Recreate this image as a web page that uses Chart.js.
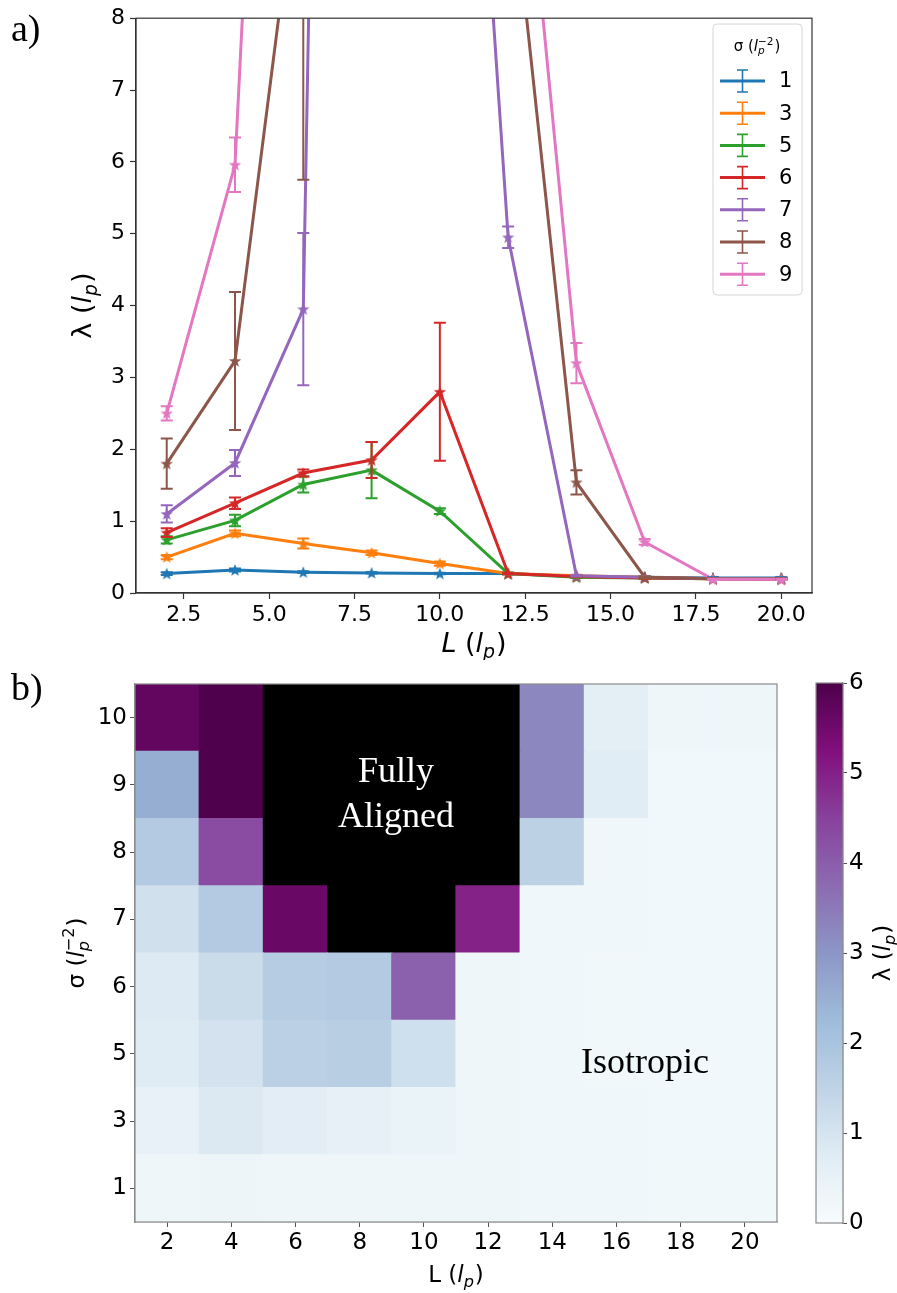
<!DOCTYPE html>
<html>
<head>
<meta charset="utf-8">
<script src="https://cdn.jsdelivr.net/npm/chart.js@4.4.1/dist/chart.umd.min.js"></script>
<style>
    html, body { margin: 0; padding: 0; background: #fff; }
    body { width: 897px; height: 1293px; position: relative; overflow: hidden; }
    canvas { position: absolute; }
    #lineCanvas { left: 0; top: 0; }
    #heatCanvas { left: 0; top: 660px; }
    #barCanvas { left: 790px; top: 660px; }
</style>
</head>
<body>
<canvas id="lineCanvas" width="897" height="660" style="width:897px;height:660px"></canvas>
<canvas id="heatCanvas" width="800" height="633" style="width:800px;height:633px"></canvas>
<canvas id="barCanvas" width="107" height="633" style="width:107px;height:633px"></canvas>
<script>
// ---- data: panel a (lambda vs L for each sigma) ----
const L = [2, 4, 6, 8, 10, 12, 14, 16, 18, 20];
const sigmaLine = [1, 3, 5, 6, 7, 8, 9];

const lamS1 = [0.27, 0.32, 0.29, 0.28, 0.27, 0.27, 0.23, 0.22, 0.21, 0.21];
const lamS3 = [0.50, 0.83, 0.69, 0.56, 0.41, 0.27, 0.24, 0.22, 0.20, 0.20];
const lamS5 = [0.74, 1.01, 1.51, 1.71, 1.14, 0.27, 0.22, 0.21, 0.20, 0.20];
const lamS6 = [0.84, 1.25, 1.67, 1.85, 2.80, 0.27, 0.23, 0.21, 0.20, 0.19];
const lamS7 = [1.10, 1.81, 3.95, 56, 19, 4.95, 0.24, 0.22, 0.20, 0.20];
const lamS8 = [1.80, 3.23, 10.7, 40, 40, 10.4, 1.54, 0.22, 0.20, 0.20];
const lamS9 = [2.50, 5.96, 25, 40, 40, 13.0, 3.20, 0.71, 0.19, 0.19];

const errS1 = [0.02, 0.02, 0.01, 0.01, 0.01, 0.01, 0.01, 0.01, 0.01, 0.01];
const errS3 = [0.03, 0.04, 0.07, 0.03, 0.03, 0.01, 0.01, 0.01, 0.01, 0.01];
const errS5 = [0.05, 0.08, 0.11, 0.39, 0.04, 0.01, 0.01, 0.01, 0.01, 0.01];
const errS6 = [0.06, 0.08, 0.05, 0.25, 0.96, 0.01, 0.01, 0.01, 0.01, 0.01];
const errS7 = [0.12, 0.18, 1.06, 5, 3, 0.15, 0.01, 0.01, 0.01, 0.01];
const errS8 = [0.35, 0.96, 4.95, 5, 5, 2, 0.17, 0.01, 0.01, 0.01];
const errS9 = [0.10, 0.38, 5, 5, 5, 2, 0.28, 0.04, 0.01, 0.01];

const lineTicksX = [2.5, 5, 7.5, 10, 12.5, 15, 17.5, 20];
const lineTicksY = [0, 1, 2, 3, 4, 5, 6, 7, 8];

// ---- data: panel b (heatmap, null = above colour range / fully aligned) ----
const sigmaHeat = [1, 3, 5, 6, 7, 8, 9, 10];
const heatS1  = [0.27, 0.32, 0.29, 0.28, 0.27, 0.27, 0.23, 0.22, 0.21, 0.21];
const heatS3  = [0.50, 0.85, 0.69, 0.56, 0.41, 0.27, 0.24, 0.22, 0.20, 0.20];
const heatS5  = [0.75, 1.05, 1.60, 1.66, 1.15, 0.27, 0.22, 0.21, 0.20, 0.20];
const heatS6  = [0.82, 1.26, 1.73, 1.78, 3.95, 0.27, 0.23, 0.21, 0.20, 0.19];
const heatS7  = [1.11, 1.78, 5.58, null, null, 4.97, 0.24, 0.22, 0.20, 0.20];
const heatS8  = [1.78, 4.30, null, null, null, null, 1.55, 0.22, 0.20, 0.20];
const heatS9  = [2.53, 5.95, null, null, null, null, 3.25, 0.72, 0.19, 0.19];
const heatS10 = [5.68, 5.95, null, null, null, null, 3.25, 0.66, 0.30, 0.28];
const colorbarTicks = [0, 1, 2, 3, 4, 5, 6];

const lamLines = [lamS1, lamS3, lamS5, lamS6, lamS7, lamS8, lamS9];
const errLines = [errS1, errS3, errS5, errS6, errS7, errS8, errS9];
const heatRows = [heatS1, heatS3, heatS5, heatS6, heatS7, heatS8, heatS9, heatS10];

const lineColors = ["#1f77b4", "#ff7f0e", "#2ca02c", "#d62728", "#9467bd", "#8c564b", "#e377c2"];
const BUPU = ["#f7fcfd", "#e0ecf4", "#bfd3e6", "#9ebcda", "#8c96c6", "#8c6bb1", "#88419d", "#810f7c", "#4d004b"];
const LAM_MAX = 6;

Chart.defaults.font.family = "'DejaVu Sans', sans-serif";
Chart.defaults.color = "#000";

function hexToRgb(h) {
    return [1, 3, 5].map(i => parseInt(h.slice(i, i + 2), 16));
}

// BuPu colormap, black above the range
function bupu(v) {
    if (v === null || v > LAM_MAX) return "#000000";
    const t = Math.max(0, v / LAM_MAX) * (BUPU.length - 1);
    const i = Math.min(Math.floor(t), BUPU.length - 2);
    const f = t - i;
    const a = hexToRgb(BUPU[i]), b = hexToRgb(BUPU[i + 1]);
    const c = a.map((x, k) => Math.round(x + (b[k] - x) * f));
    return `rgb(${c[0]},${c[1]},${c[2]})`;
}

function starImage(color) {
    const c = document.createElement("canvas");
    c.width = c.height = 14;
    const g = c.getContext("2d");
    g.fillStyle = color;
    g.beginPath();
    for (let k = 0; k < 10; k++) {
        const r = k % 2 ? 2.7 : 6.5;
        const a = -Math.PI / 2 + k * Math.PI / 5;
        g.lineTo(7 + r * Math.cos(a), 7.5 + r * Math.sin(a));
    }
    g.closePath();
    g.fill();
    return c;
}

// text with italic parts and sub/superscripts, centred on x, y = baseline
function drawRich(ctx, parts, x, y, size, rot) {
    const fam = "'DejaVu Sans'";
    const small = size * 0.7;
    const font = (it, s) => (it ? "italic " : "") + s + "px " + fam;
    const widths = parts.map(p => {
        if (p.t !== undefined) {
            ctx.font = font(p.it, size);
            return ctx.measureText(p.t).width;
        }
        let w = 0;
        if (p.sub) { ctx.font = font(true, small); w = Math.max(w, ctx.measureText(p.sub).width); }
        if (p.sup) { ctx.font = font(false, small); w = Math.max(w, ctx.measureText(p.sup).width); }
        return w + 1;
    });
    const total = widths.reduce((a, b) => a + b, 0);
    ctx.save();
    ctx.translate(x, y);
    ctx.rotate(rot || 0);
    ctx.textAlign = "left";
    ctx.textBaseline = "alphabetic";
    ctx.fillStyle = "#000";
    let cx = -total / 2;
    parts.forEach((p, k) => {
        if (p.t !== undefined) {
            ctx.font = font(p.it, size);
            ctx.fillText(p.t, cx, 0);
        } else {
            if (p.sub) { ctx.font = font(true, small); ctx.fillText(p.sub, cx, size * 0.22); }
            if (p.sup) { ctx.font = font(false, small); ctx.fillText(p.sup, cx, -size * 0.42); }
        }
        cx += widths[k];
    });
    ctx.restore();
}

const lpParts = [{ t: "(" }, { t: "l", it: true }, { sub: "p" }, { t: ")" }];
const sigmaParts = [{ t: "σ (" }, { t: "l", it: true }, { sub: "p", sup: "−2" }, { t: ")" }];

// ---- panel a ----
const errorBarPlugin = {
    id: "errorBars",
    afterDatasetsDraw(chart) {
        const { ctx, chartArea: a, scales: { x, y } } = chart;
        ctx.save();
        ctx.beginPath();
        ctx.rect(a.left, a.top, a.width, a.height);
        ctx.clip();
        chart.data.datasets.forEach(ds => {
            ctx.strokeStyle = ds.borderColor;
            ctx.lineWidth = 2;
            ds.data.forEach((p, j) => {
                const e = ds.errors[j];
                const px = x.getPixelForValue(p.x);
                const top = y.getPixelForValue(p.y + e);
                const bot = y.getPixelForValue(p.y - e);
                ctx.beginPath();
                ctx.moveTo(px, top); ctx.lineTo(px, bot);
                ctx.moveTo(px - 6, top); ctx.lineTo(px + 6, top);
                ctx.moveTo(px - 6, bot); ctx.lineTo(px + 6, bot);
                ctx.stroke();
            });
        });
        ctx.restore();
    }
};

const lineDecor = {
    id: "lineDecor",
    afterDraw(chart) {
        const { ctx, chartArea: a } = chart;
        ctx.save();
        ctx.strokeStyle = "#333";
        ctx.lineWidth = 1.2;
        ctx.strokeRect(a.left, a.top, a.width, a.height);

        ctx.fillStyle = "#000";
        ctx.font = "38px 'Liberation Serif'";
        ctx.textAlign = "left";
        ctx.textBaseline = "alphabetic";
        ctx.fillText("a)", 11, 41);

        // legend
        const lx = 713, ly = 24, lw = 89, lh = 271;
        ctx.fillStyle = "rgba(255,255,255,0.85)";
        ctx.strokeStyle = "#d6d6d6";
        ctx.lineWidth = 1;
        ctx.beginPath();
        ctx.roundRect(lx, ly, lw, lh, 4);
        ctx.fill();
        ctx.stroke();
        ctx.restore();

        drawRich(ctx, sigmaParts, 757, 51, 15);

        ctx.save();
        chart.data.datasets.forEach((ds, k) => {
            const cy = 81 + k * 32.2;
            ctx.strokeStyle = ds.borderColor;
            ctx.lineWidth = 3;
            ctx.beginPath();
            ctx.moveTo(720, cy); ctx.lineTo(765, cy);
            ctx.stroke();
            ctx.lineWidth = 1.6;
            ctx.beginPath();
            ctx.moveTo(742.5, cy - 11); ctx.lineTo(742.5, cy + 11);
            ctx.moveTo(737, cy - 11); ctx.lineTo(748, cy - 11);
            ctx.moveTo(737, cy + 11); ctx.lineTo(748, cy + 11);
            ctx.stroke();
            ctx.fillStyle = "#000";
            ctx.font = "21px 'DejaVu Sans'";
            ctx.textBaseline = "middle";
            ctx.textAlign = "left";
            ctx.fillText(ds.label, 779, cy + 1);
        });
        ctx.restore();

        // axis titles
        drawRich(ctx, [{ t: "L", it: true }, { t: " " }].concat(lpParts), (a.left + a.right) / 2, 652, 27);
        drawRich(ctx, [{ t: "λ " }].concat(lpParts), 91, (a.top + a.bottom) / 2, 27, -Math.PI / 2);
    }
};

new Chart(document.getElementById("lineCanvas"), {
    type: "line",
    data: {
        datasets: sigmaLine.map((s, i) => ({
            label: String(s),
            data: L.map((x, j) => ({ x, y: lamLines[i][j] })),
            errors: errLines[i],
            borderColor: lineColors[i],
            backgroundColor: lineColors[i],
            borderWidth: 3,
            pointStyle: starImage(lineColors[i]),
            pointRadius: 6,
            tension: 0,
            clip: 0,
            order: 10 - i
        }))
    },
    options: {
        responsive: false,
        animation: false,
        layout: { padding: { left: 0, top: 14, right: 85, bottom: 0 } },
        plugins: { legend: { display: false }, tooltip: { enabled: false } },
        scales: {
            x: {
                type: "linear",
                min: 1.1,
                max: 20.9,
                afterBuildTicks: s => { s.ticks = lineTicksX.map(v => ({ value: v })); },
                afterFit: s => { s.height = 67; },
                ticks: { callback: v => v.toFixed(1), font: { size: 22 }, padding: 3, maxRotation: 0, autoSkip: false },
                grid: { drawOnChartArea: false, tickLength: 6, color: "#333", tickWidth: 1.2 },
                border: { color: "#333", width: 1.2 }
            },
            y: {
                min: 0,
                max: 8,
                afterBuildTicks: s => { s.ticks = lineTicksY.map(v => ({ value: v })); },
                afterFit: s => { s.width = 136; },
                ticks: { callback: v => String(v), font: { size: 22 }, padding: 5 },
                grid: { drawOnChartArea: false, tickLength: 6, color: "#333", tickWidth: 1.2 },
                border: { color: "#333", width: 1.2 }
            }
        }
    },
    plugins: [errorBarPlugin, lineDecor]
});

// ---- panel b heatmap ----
const heatDecor = {
    id: "heatDecor",
    afterDraw(chart) {
        const { ctx, chartArea: a } = chart;
        ctx.save();
        ctx.strokeStyle = "#8a8a8a";
        ctx.lineWidth = 1.2;
        ctx.strokeRect(a.left, a.top, a.width, a.height);

        ctx.fillStyle = "#000";
        ctx.font = "38px 'Liberation Serif'";
        ctx.textAlign = "left";
        ctx.textBaseline = "alphabetic";
        ctx.fillText("b)", 11, 40);

        ctx.font = "36px 'Liberation Serif'";
        ctx.textAlign = "center";
        ctx.fillStyle = "#fff";
        ctx.fillText("Fully", 396, 122);
        ctx.fillText("Aligned", 396, 167);
        ctx.fillStyle = "#000";
        ctx.fillText("Isotropic", 645, 413);
        ctx.restore();

        drawRich(ctx, [{ t: "L " }].concat(lpParts), (a.left + a.right) / 2, 622, 23);
        drawRich(ctx, sigmaParts, 84, (a.top + a.bottom) / 2, 23, -Math.PI / 2);
    }
};

new Chart(document.getElementById("heatCanvas"), {
    type: "bar",
    data: {
        labels: L.map(String),
        datasets: sigmaHeat.map((s, r) => ({
            label: "σ = " + s,
            data: L.map(() => [r, r + 1]),
            backgroundColor: heatRows[r].map(bupu),
            borderWidth: 0,
            inflateAmount: 0.6,
            barPercentage: 1,
            categoryPercentage: 1,
            grouped: false
        }))
    },
    options: {
        responsive: false,
        animation: false,
        layout: { padding: { left: 0, top: 24, right: 23, bottom: 0 } },
        plugins: { legend: { display: false }, tooltip: { enabled: false } },
        scales: {
            x: {
                afterFit: s => { s.height = 71; },
                ticks: { font: { size: 23 }, padding: 2, maxRotation: 0, autoSkip: false },
                grid: { offset: false, drawOnChartArea: false, tickLength: 5, color: "#555" },
                border: { color: "#8a8a8a", width: 1.2 }
            },
            y: {
                type: "linear",
                min: 0,
                max: sigmaHeat.length,
                afterBuildTicks: s => { s.ticks = sigmaHeat.map((v, i) => ({ value: i + 0.5 })); },
                afterFit: s => { s.width = 135; },
                ticks: { callback: (v, i) => String(sigmaHeat[i]), font: { size: 23 }, padding: 3 },
                grid: { drawOnChartArea: false, tickLength: 5, color: "#555" },
                border: { color: "#8a8a8a", width: 1.2 }
            }
        }
    },
    plugins: [heatDecor]
});

// ---- colorbar ----
const barDecor = {
    id: "barDecor",
    afterDraw(chart) {
        const { ctx, chartArea: a } = chart;
        ctx.save();
        ctx.strokeStyle = "#8a8a8a";
        ctx.lineWidth = 1.2;
        ctx.strokeRect(a.left, a.top, a.width, a.height);
        ctx.restore();
        drawRich(ctx, [{ t: "λ " }].concat(lpParts), 100, (a.top + a.bottom) / 2, 23, -Math.PI / 2);
    }
};

new Chart(document.getElementById("barCanvas"), {
    type: "bar",
    data: {
        labels: ["λ"],
        datasets: [{
            data: [[0, LAM_MAX]],
            backgroundColor: c => {
                const a = c.chart.chartArea;
                if (!a) return bupu(3);
                const g = c.chart.ctx.createLinearGradient(0, a.bottom, 0, a.top);
                BUPU.forEach((col, k) => g.addColorStop(k / (BUPU.length - 1), col));
                return g;
            },
            borderWidth: 0,
            barPercentage: 1,
            categoryPercentage: 1
        }]
    },
    options: {
        responsive: false,
        animation: false,
        layout: { padding: { left: 26, top: 23, right: 0, bottom: 70 } },
        plugins: { legend: { display: false }, tooltip: { enabled: false } },
        scales: {
            x: { display: false },
            y: {
                position: "right",
                min: 0,
                max: LAM_MAX,
                afterBuildTicks: s => { s.ticks = colorbarTicks.map(v => ({ value: v })); },
                afterFit: s => { s.width = 54; },
                ticks: { callback: v => String(v), font: { size: 23 }, padding: 2 },
                grid: { drawOnChartArea: false, tickLength: 4, color: "#555" },
                border: { color: "#8a8a8a", width: 1.2 }
            }
        }
    },
    plugins: [barDecor]
});
</script>
</body>
</html>
